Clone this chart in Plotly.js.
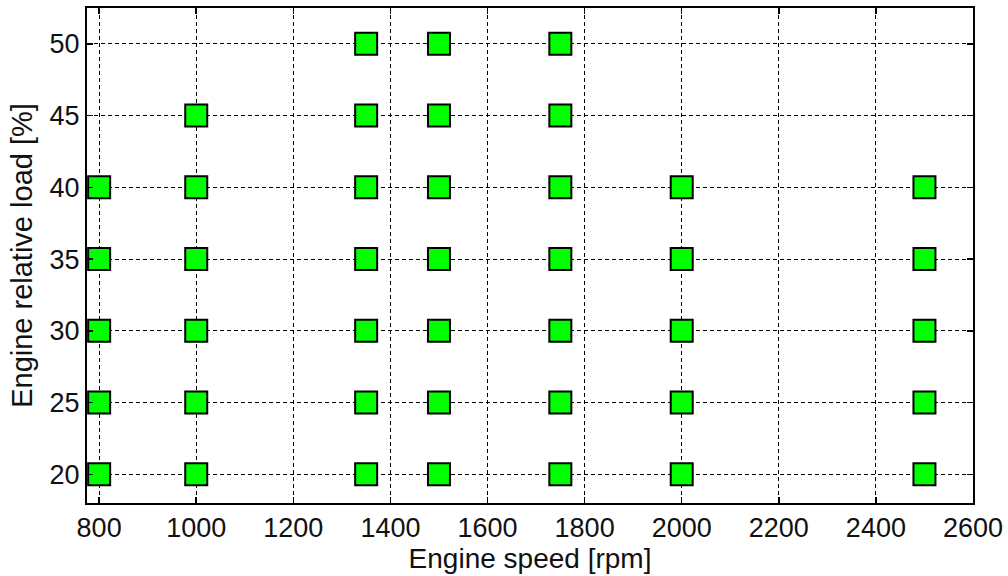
<!DOCTYPE html>
<html>
<head>
<meta charset="utf-8">
<script src="https://cdn.plot.ly/plotly-3.0.1.min.js"></script>
<style>html,body{margin:0;padding:0;background:#fff;}#chart{width:1008px;height:576px;}</style>
</head>
<body>
<div id="chart"></div>
<script>
// Operating points: engine speed [rpm] and relative load [%]
const speeds = [800, 1000, 1350, 1500, 1750, 2000, 2500];
const loadsPerSpeed = [
  [20, 25, 30, 35, 40],
  [20, 25, 30, 35, 40, 45],
  [20, 25, 30, 35, 40, 45, 50],
  [20, 25, 30, 35, 40, 45, 50],
  [20, 25, 30, 35, 40, 45, 50],
  [20, 25, 30, 35, 40],
  [20, 25, 30, 35, 40]
];
const xTicks = [800, 1000, 1200, 1400, 1600, 1800, 2000, 2200, 2400, 2600];
const yTicks = [20, 25, 30, 35, 40, 45, 50];

const xs = [], ys = [];
speeds.forEach((s, i) => loadsPerSpeed[i].forEach(l => { xs.push(s); ys.push(l); }));

const font = 'Liberation Sans, Arial, sans-serif';
const trace = {
  x: xs, y: ys, type: 'scatter', mode: 'markers',
  marker: {symbol: 'square', size: 22, color: '#00ff00', line: {color: '#000', width: 2}},
  cliponaxis: false, hoverinfo: 'x+y'
};
const axisCommon = {
  showline: true, linecolor: '#000', linewidth: 2, mirror: 'ticks',
  ticks: 'inside', ticklen: 6, tickcolor: '#000', tickwidth: 1.5,
  showgrid: true, gridcolor: '#000', gridwidth: 1, griddash: '4px,3px',
  zeroline: false, tickfont: {family: font, size: 27, color: '#111'}
};
const layout = {
  width: 1008, height: 576,
  margin: {l: 87, r: 35, t: 8, b: 73},
  paper_bgcolor: '#fff', plot_bgcolor: '#fff',
  showlegend: false,
  xaxis: Object.assign({}, axisCommon, {
    range: [775, 2600], tickvals: xTicks, ticktext: xTicks.map(String),
    title: {text: 'Engine speed [rpm]', font: {family: font, size: 28, color: '#111'}, standoff: 0}
  }),
  yaxis: Object.assign({}, axisCommon, {
    range: [18, 52.5], tickvals: yTicks, ticktext: yTicks.map(String),
    title: {text: 'Engine relative load [%]', font: {family: font, size: 29, color: '#111'}, standoff: 8}
  })
};
Plotly.newPlot('chart', [trace], layout, {displayModeBar: false, staticPlot: true});
</script>
</body>
</html>
